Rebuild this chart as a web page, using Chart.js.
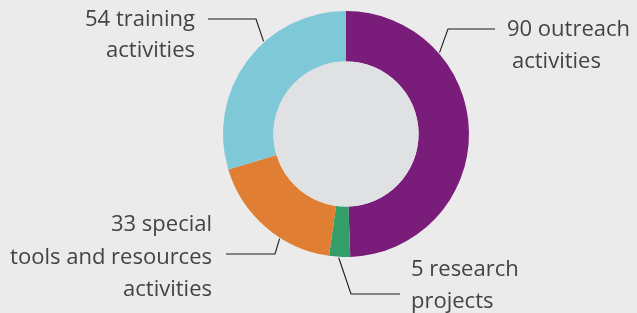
<!DOCTYPE html>
<html>
<head>
<meta charset="utf-8">
<script src="https://cdn.jsdelivr.net/npm/chart.js@4.4.0/dist/chart.umd.min.js"></script>
<style>
  html, body { margin: 0; padding: 0; background: #ebebeb; }
  #wrap { width: 637px; height: 313px; position: relative; }
</style>
</head>
<body>
<div id="wrap"><canvas id="activityChart" width="637" height="313"></canvas></div>
<script>
// Data
const categories = ['outreach activities', 'research projects', 'special tools and resources activities', 'training activities'];
const counts = [90, 5, 33, 54];
const sliceColors = ['#7a1c7a', '#349e69', '#e07f33', '#7fc8d8'];

// Label text + leader lines (annotation only)
const labelLines = [
  ['90 outreach', 'activities'],
  ['5 research', 'projects'],
  ['33 special', 'tools and resources', 'activities'],
  ['54 training', 'activities']
];
const labelSetup = [
  { align: 'left',  lines: [[507, 30], [512, 62]], path: [[495, 29], [448, 29]], t: 0.275 },
  { align: 'left',  lines: [[411, 270], [411, 302]], path: [[400, 294], [351, 294]], t: 0.54 },
  { align: 'right', lines: [[212, 225], [212, 258], [212, 290]], path: [[226, 254], [275, 254]], t: 0.375 },
  { align: 'right', lines: [[195, 20], [195, 51]], path: [[208, 19], [256, 19]], t: 0.61 }
];

const innerFill = {
  id: 'innerFill',
  afterDatasetsDraw(chart) {
    const arc = chart.getDatasetMeta(0).data[0];
    if (!arc) return;
    const ctx = chart.ctx;
    ctx.save();
    ctx.fillStyle = '#e0e1e3';
    ctx.beginPath();
    ctx.arc(arc.x, arc.y, arc.innerRadius, 0, Math.PI * 2);
    ctx.fill();
    ctx.restore();
  }
};

const sideLabels = {
  id: 'sideLabels',
  afterDraw(chart) {
    const ctx = chart.ctx;
    const arcs = chart.getDatasetMeta(0).data;
    ctx.save();
    ctx.font = '22px "Open Sans", sans-serif';
    ctx.fillStyle = '#434343';
    ctx.textBaseline = 'middle';
    labelSetup.forEach((cfg, i) => {
      const arc = arcs[i];
      const a = arc.startAngle + (arc.endAngle - arc.startAngle) * cfg.t;
      const ex = arc.x + Math.cos(a) * (arc.outerRadius + 1);
      const ey = arc.y + Math.sin(a) * (arc.outerRadius + 1);
      // leader line
      ctx.strokeStyle = '#1a1a1a';
      ctx.lineWidth = 1.1;
      ctx.beginPath();
      ctx.moveTo(cfg.path[0][0], cfg.path[0][1]);
      ctx.lineTo(cfg.path[1][0], cfg.path[1][1]);
      ctx.lineTo(ex, ey);
      ctx.stroke();
      // text
      ctx.textAlign = cfg.align;
      labelLines[i].forEach((txt, j) => {
        ctx.fillText(txt, cfg.lines[j][0], cfg.lines[j][1]);
      });
    });
    ctx.restore();
  }
};

new Chart(document.getElementById('activityChart'), {
  type: 'doughnut',
  data: {
    labels: categories,
    datasets: [{
      data: counts,
      backgroundColor: sliceColors,
      borderWidth: 0,
      hoverOffset: 0
    }]
  },
  options: {
    responsive: false,
    animation: false,
    cutout: '59%',
    layout: { padding: { top: 11, bottom: 56, left: 223, right: 168 } },
    plugins: {
      legend: { display: false },
      tooltip: { enabled: false }
    }
  },
  plugins: [innerFill, sideLabels]
});
</script>
</body>
</html>
